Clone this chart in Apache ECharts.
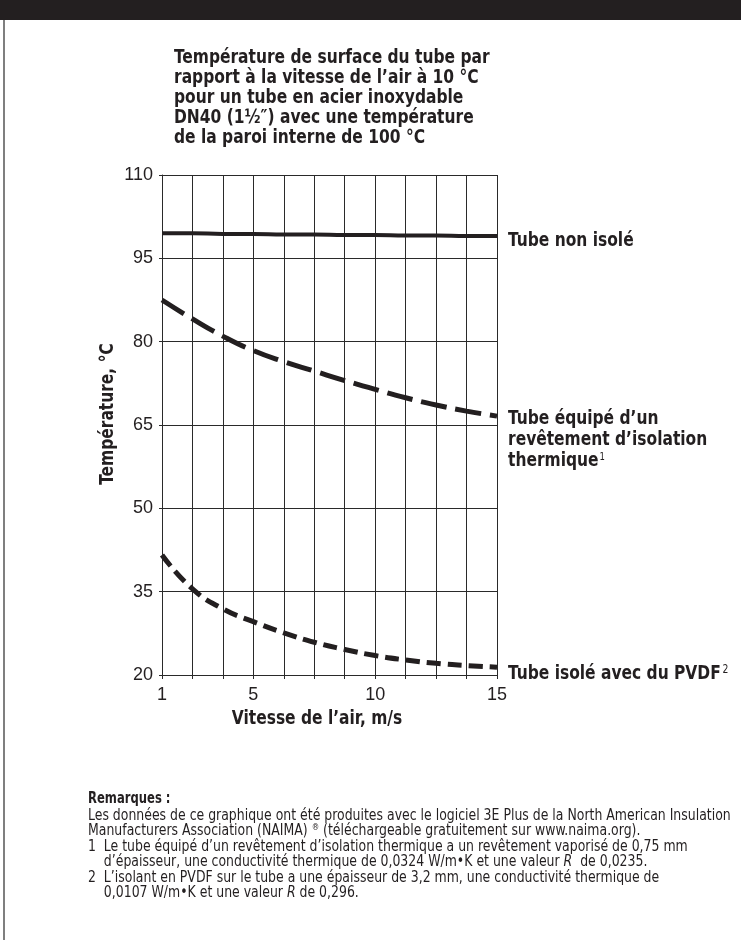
<!DOCTYPE html>
<html>
<head>
<meta charset="utf-8">
<script src="https://cdn.jsdelivr.net/npm/echarts@6/dist/echarts.min.js"></script>
<style>
html,body{margin:0;padding:0;background:#fff;}
#chart{width:741px;height:940px;}
</style>
</head>
<body>
<div id="chart"></div>
<script>
// ---- data ----
const speedTickLabels = ['1', '', '', '5', '', '', '', '10', '', '', '', '15'];
const bareTube = [99.5, 99.5, 99.4, 99.4, 99.3, 99.3, 99.2, 99.2, 99.1, 99.1, 99.0, 99.0];
const coatedTube = [87.5, 84.1, 81.0, 78.4, 76.4, 74.7, 73.0, 71.4, 69.9, 68.6, 67.5, 66.6];
const pvdfTube = [41.6, 35.5, 31.9, 29.6, 27.6, 25.9, 24.6, 23.5, 22.7, 22.1, 21.7, 21.4];
const yMin = 20, yMax = 110, yStep = 15;

const titleLines = [
  'Température de surface du tube par',
  'rapport à la vitesse de l’air à 10 °C',
  'pour un tube en acier inoxydable',
  'DN40 (1½″) avec une température',
  'de la paroi interne de 100 °C'
];

const INK = '#231f20';
const NARROW = '"DejaVu Sans Condensed", "DejaVu Sans", sans-serif';
const REG = '"Liberation Sans", Arial, sans-serif';
const SX_BOLD = 0.86;   // horizontal condensation for bold labels
const SX_NOTE = 0.925;  // horizontal condensation for notes

const chart = echarts.init(document.getElementById('chart'), null, {renderer: 'canvas'});

const option = {
  backgroundColor: '#ffffff',
  animation: false,
  grid: {left: 162, top: 175, width: 335, height: 500, containLabel: false},
  xAxis: {
    type: 'category',
    data: speedTickLabels,
    boundaryGap: false,
    axisLine: {show: true, lineStyle: {color: '#2a2a2a', width: 1}},
    axisTick: {show: true, interval: 0, length: 4, lineStyle: {color: '#2a2a2a', width: 1}},
    axisLabel: {show: true, interval: 0, margin: 11, color: INK, fontFamily: REG, fontSize: 18},
    splitLine: {show: true, interval: 0, lineStyle: {color: '#2a2a2a', width: 1}}
  },
  yAxis: {
    type: 'value',
    min: yMin, max: yMax, interval: yStep,
    axisLine: {show: true, lineStyle: {color: '#2a2a2a', width: 1}},
    axisTick: {show: true, length: 3, lineStyle: {color: '#2a2a2a', width: 1}},
    axisLabel: {margin: 9, color: INK, fontFamily: REG, fontSize: 18},
    splitLine: {show: true, lineStyle: {color: '#2a2a2a', width: 1}}
  },
  series: [
    {
      name: 'Tube non isolé', type: 'line', data: bareTube, smooth: true,
      symbol: 'none', lineStyle: {color: INK, width: 4, type: 'solid', cap: 'butt'}
    },
    {
      name: 'Tube équipé d’un revêtement d’isolation thermique', type: 'line', data: coatedTube, smooth: true,
      symbol: 'none', lineStyle: {color: INK, width: 5, type: [26, 9], cap: 'butt'}
    },
    {
      name: 'Tube isolé avec du PVDF', type: 'line', data: pvdfTube, smooth: true,
      symbol: 'none', lineStyle: {color: INK, width: 5, type: [14, 7], cap: 'butt'}
    }
  ],
  graphic: [
    {type: 'rect', shape: {x: 0, y: 0, width: 741, height: 20}, style: {fill: INK}, silent: true},
    {type: 'line', shape: {x1: 4, y1: 20, x2: 4, y2: 940}, style: {stroke: '#555', lineWidth: 1.5}, silent: true},
    {
      type: 'text', x: 174, y: 48, scaleX: SX_BOLD,
      style: {text: titleLines.join('\n'), font: 'bold 20px ' + NARROW, lineHeight: 20, fill: INK, verticalAlign: 'top'}
    },
    {
      type: 'text', x: 108, y: 414, rotation: Math.PI / 2, scaleX: SX_BOLD,
      style: {text: 'Température, °C', font: 'bold 20px ' + NARROW, fill: INK, align: 'center', verticalAlign: 'middle'}
    },
    {
      type: 'text', x: 317, y: 719, scaleX: SX_BOLD,
      style: {text: 'Vitesse de l’air, m/s', font: 'bold 20px ' + NARROW, fill: INK, align: 'center', verticalAlign: 'middle'}
    },
    {
      type: 'text', x: 508, y: 241, scaleX: SX_BOLD,
      style: {text: 'Tube non isolé', font: 'bold 20px ' + NARROW, fill: INK, verticalAlign: 'middle'}
    },
    {
      type: 'text', x: 508, y: 408, scaleX: SX_BOLD,
      style: {
        text: 'Tube équipé d’un\nrevêtement d’isolation\n{b|thermique}{s|1}',
        font: 'bold 20px ' + NARROW, fill: INK, lineHeight: 21, verticalAlign: 'top',
        rich: {
          b: {font: 'bold 20px ' + NARROW, fill: INK, lineHeight: 21},
          s: {font: '11px ' + NARROW, fill: INK, verticalAlign: 'top', lineHeight: 21, padding: [2, 0, 0, 1]}
        }
      }
    },
    {
      type: 'text', x: 508, y: 663, scaleX: SX_BOLD,
      style: {
        text: '{b|Tube isolé avec du PVDF}{s|2}', verticalAlign: 'top',
        rich: {
          b: {font: 'bold 20px ' + NARROW, fill: INK, lineHeight: 21},
          s: {font: '12px ' + NARROW, fill: INK, verticalAlign: 'top', lineHeight: 21, padding: [1, 0, 0, 2]}
        }
      }
    },
    {
      type: 'text', x: 88, y: 792, scaleX: SX_BOLD,
      style: {text: 'Remarques :', font: 'bold 15px ' + NARROW, fill: INK, verticalAlign: 'top'}
    },
    {
      type: 'text', x: 88, y: 808, scaleX: SX_NOTE,
      style: {
        text: 'Les données de ce graphique ont été produites avec le logiciel 3E Plus de la North American Insulation\n' +
              'Manufacturers Association (NAIMA) {s|®} (téléchargeable gratuitement sur www.naima.org).\n' +
              '1  Le tube équipé d’un revêtement d’isolation thermique a un revêtement vaporisé de 0,75 mm\n' +
              '    d’épaisseur, une conductivité thermique de 0,0324 W/m•K et une valeur {i|R}  de 0,0235.\n' +
              '2  L’isolant en PVDF sur le tube a une épaisseur de 3,2 mm, une conductivité thermique de\n' +
              '    0,0107 W/m•K et une valeur {i|R} de 0,296.',
        font: '15px ' + NARROW, fill: INK, lineHeight: 15.5, verticalAlign: 'top',
        rich: {
          s: {font: '9px ' + NARROW, fill: INK, verticalAlign: 'top', lineHeight: 15.5},
          i: {font: 'italic 15px ' + NARROW, fill: INK, lineHeight: 15.5}
        }
      }
    }
  ]
};
chart.setOption(option);
</script>
</body>
</html>
